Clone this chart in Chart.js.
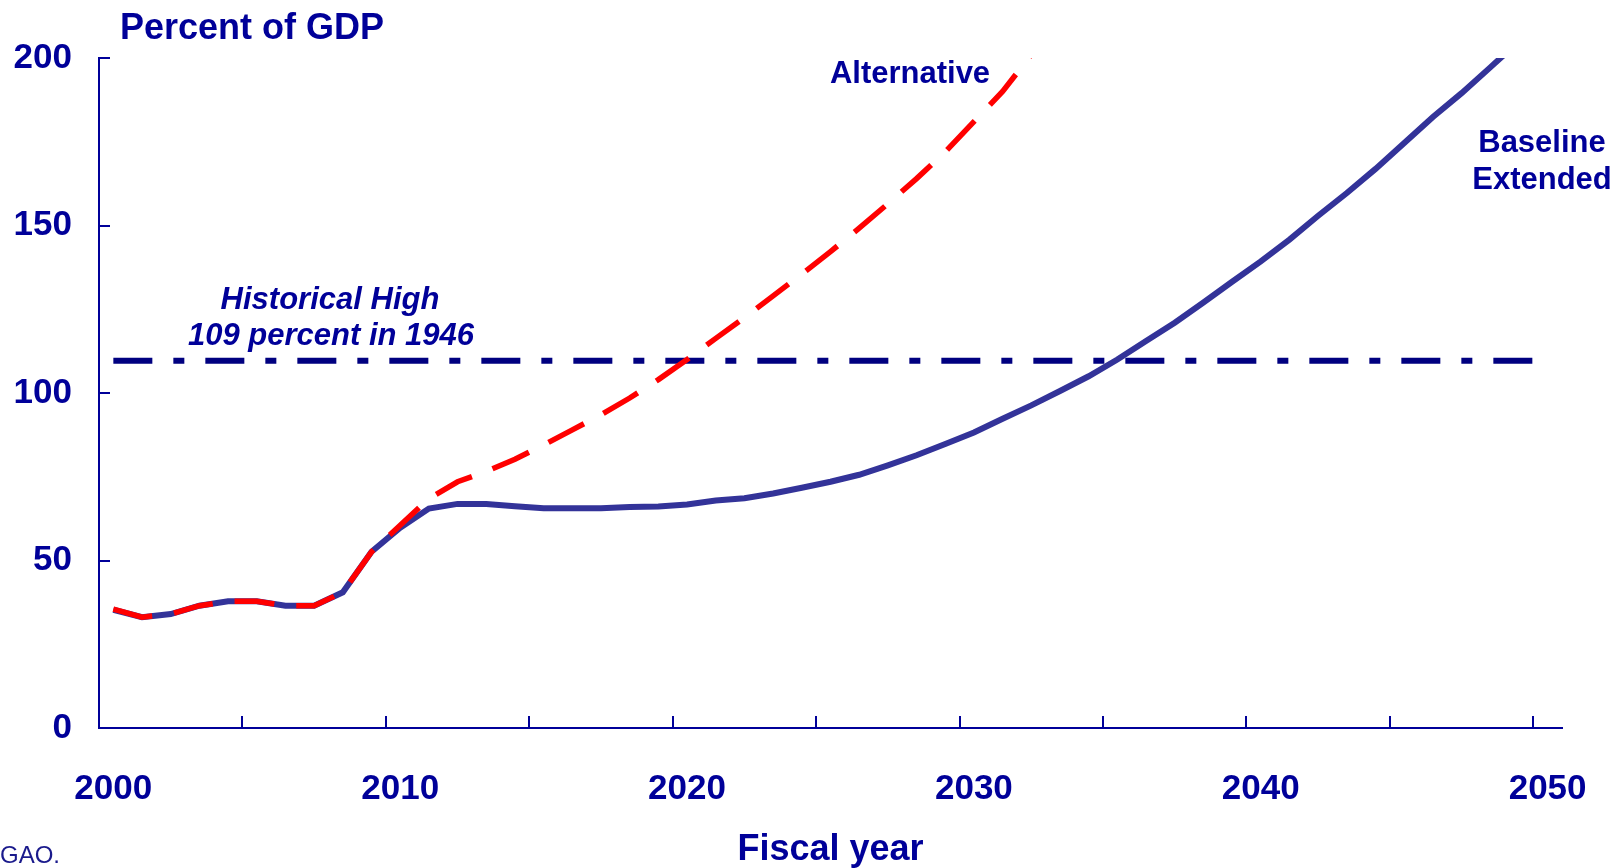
<!DOCTYPE html>
<html>
<head>
<meta charset="utf-8">
<script src="https://cdn.jsdelivr.net/npm/chart.js@4/dist/chart.umd.min.js"></script>
<style>
  html, body { margin: 0; padding: 0; background: #ffffff; }
  #wrap { position: relative; width: 1623px; height: 868px; }
</style>
</head>
<body>
<div id="wrap"><canvas id="c"></canvas></div>
<script>
// ---- data ----
const years = [2000,2001,2002,2003,2004,2005,2006,2007,2008,2009,
               2010,2011,2012,2013,2014,2015,2016,2017,2018,2019,
               2020,2021,2022,2023,2024,2025,2026,2027,2028,2029,
               2030,2031,2032,2033,2034,2035,2036,2037,2038,2039,
               2040,2041,2042,2043,2044,2045,2046,2047,2048,2049];
const baselineExtended = [35.3,33.1,34.0,36.5,37.8,37.8,36.5,36.5,40.5,52.6,
                          59.8,65.5,66.9,66.9,66.2,65.6,65.6,65.6,66.0,66.1,
                          66.7,67.9,68.6,70.0,71.7,73.5,75.6,78.4,81.4,84.8,
                          88.2,92.3,96.3,100.6,105.0,110.0,115.5,121.0,127.0,133.2,
                          139.3,145.8,152.9,159.7,166.9,174.6,182.4,189.5,197.2,205.0];
const alternative = [35.5,33.1,34.0,36.5,37.8,37.8,36.5,36.5,40.5,52.6,
                     60.5,68.5,73.5,76.6,80.2,84.5,89.0,93.5,98.5,104.0,
                     110.0,116.3,122.5,129.0,135.5,142.2,149.2,156.5,164.0,172.0,
                     181.0,190.0,201.0];
const historicalHigh = 109.6;          // percent of GDP (1946)
const historicalSpan = [2000, 2049.5]; // years covered by the reference line
const xTickYears = [2000,2005,2010,2015,2020,2025,2030,2035,2040,2045,2050];
const yTickValues = [0,50,100,150,200];

// ---- styling ----
const NAVY = '#000099';
const FONT = '"Liberation Sans", Arial, Helvetica, sans-serif';

// fiscal-year values are centred in their year slot
const toPts = (vals) => vals.map((v, i) => ({ x: years[i] + 0.5, y: v }));

const annotations = {
  id: 'annotations',
  afterDraw(chart) {
    const { ctx, scales: { x, y } } = chart;
    ctx.save();
    // inward tick marks
    ctx.strokeStyle = NAVY;
    ctx.lineWidth = 2;
    ctx.beginPath();
    yTickValues.forEach(v => {
      const py = Math.round(y.getPixelForValue(v));
      ctx.moveTo(x.left, py);
      ctx.lineTo(x.left + 11, py);
    });
    xTickYears.filter(v => v > x.min).forEach(v => {
      const px = Math.round(x.getPixelForValue(v));
      ctx.moveTo(px, y.bottom);
      ctx.lineTo(px, y.bottom - 12);
    });
    ctx.stroke();

    ctx.fillStyle = NAVY;
    ctx.textBaseline = 'alphabetic';
    // y-axis title
    ctx.font = 'bold 36px ' + FONT;
    ctx.textAlign = 'left';
    ctx.fillText('Percent of GDP', 120, 39);
    // series labels
    ctx.font = 'bold 31px ' + FONT;
    ctx.textAlign = 'center';
    ctx.fillText('Alternative', 910, 83);
    ctx.fillText('Baseline', 1542, 152);
    ctx.fillText('Extended', 1542, 189);
    // historical high label
    ctx.font = 'italic bold 31px ' + FONT;
    ctx.fillText('Historical High', 330, 309);
    ctx.fillText('109 percent in 1946', 331, 345);
    // source fragment
    ctx.font = '24px ' + FONT;
    ctx.textAlign = 'left';
    ctx.fillStyle = '#1a1a8c';
    ctx.fillText('GAO.', 0, 863);
    ctx.restore();
  }
};

new Chart(document.getElementById('c'), {
  type: 'line',
  data: {
    datasets: [
      {
        label: 'Alternative',
        data: toPts(alternative),
        borderColor: '#ff0000',
        borderWidth: 5.5,
        borderDash: [40, 22],
        borderCapStyle: 'butt',
        pointRadius: 0,
        tension: 0,
        clip: 0,
        order: 0
      },
      {
        label: 'Baseline Extended',
        data: toPts(baselineExtended),
        borderColor: '#333399',
        borderWidth: 6,
        pointRadius: 0,
        tension: 0,
        clip: 0,
        order: 1
      },
      {
        label: 'Historical High',
        data: [{ x: historicalSpan[0] + 0.5, y: historicalHigh }, { x: historicalSpan[1] + 0.5, y: historicalHigh }],
        borderColor: '#000080',
        borderWidth: 6,
        borderDash: [39, 21, 11, 21],
        borderCapStyle: 'butt',
        pointRadius: 0,
        clip: 0,
        order: 2
      }
    ]
  },
  options: {
    responsive: true,
    maintainAspectRatio: false,
    animation: false,
    layout: { padding: { top: 58, right: 61, left: 0, bottom: 0 } },
    plugins: { legend: { display: false }, tooltip: { enabled: false }, title: { display: false } },
    scales: {
      x: {
        type: 'linear',
        min: 2000,
        max: 2051,
        grid: { display: false, drawTicks: false },
        border: { display: true, color: NAVY, width: 2 },
        afterBuildTicks: (s) => { s.ticks = xTickYears.map(v => ({ value: v })); },
        ticks: {
          autoSkip: false,
          maxRotation: 0,
          padding: 40,
          labelOffset: 14.3,
          color: NAVY,
          font: { family: FONT, size: 35, weight: 'bold' },
          callback: (v) => (v % 10 === 0) ? String(v) : ''
        },
        title: {
          display: true,
          text: 'Fiscal year',
          color: NAVY,
          font: { family: FONT, size: 36, weight: 'bold' },
          padding: { top: 0, bottom: -4 }
        },
        afterFit: (s) => { s.height = 140; }
      },
      y: {
        min: 0,
        max: 200,
        grid: { display: false, drawTicks: false },
        border: { display: true, color: NAVY, width: 2 },
        ticks: {
          stepSize: 50,
          padding: 27,
          color: NAVY,
          font: { family: FONT, size: 35, weight: 'bold' },
          callback: (v) => String(v)
        },
        afterFit: (s) => { s.width = 99; }
      }
    }
  },
  plugins: [annotations]
});
</script>
</body>
</html>
